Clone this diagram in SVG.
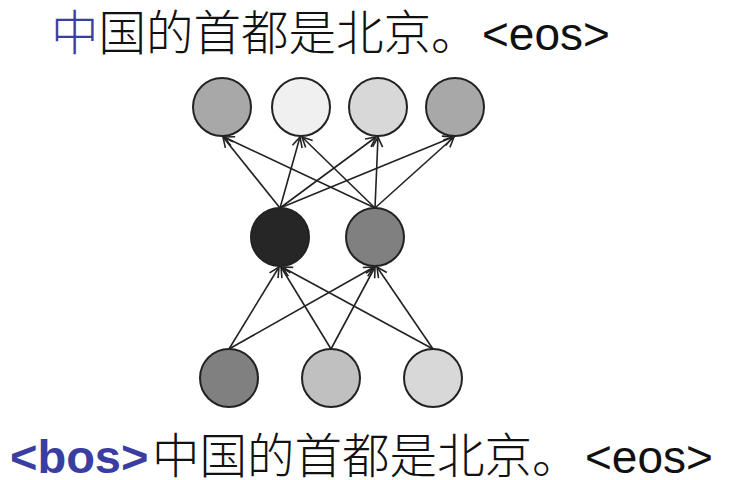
<svg xmlns="http://www.w3.org/2000/svg" width="730" height="480" viewBox="0 0 730 480">
<defs>
<marker id="arr" viewBox="0 0 12 12" refX="11" refY="6" markerWidth="12" markerHeight="12" markerUnits="userSpaceOnUse" orient="auto">
<path d="M1,1 L11,6 L1,11" fill="none" stroke="#222" stroke-width="1.6"/>
</marker>
<style>
.n{stroke:#222;stroke-width:2}
.c line{stroke:#222;stroke-width:1.6;marker-end:url(#arr)}
.t{font-family:"Liberation Sans","Noto Sans CJK SC",sans-serif;font-size:46px;fill:#111}
.cjk{font-family:"Noto Sans CJK SC",sans-serif;font-weight:300;font-size:47.5px}
.b{fill:#3a3ea2}
</style>
</defs>
<rect width="730" height="480" fill="#fff"/>
<text class="t" y="50"><tspan class="cjk b" x="51">中</tspan><tspan class="cjk">国的首都是北京。</tspan><tspan x="482">&lt;eos&gt;</tspan></text>
<text class="t" y="473"><tspan class="b" x="10" font-weight="bold" font-size="47">&lt;bos&gt;</tspan><tspan class="cjk" x="152">中国的首都是北京。</tspan><tspan x="585">&lt;eos&gt;</tspan></text>
<g class="c" id="connectors">
<line x1="229" y1="349" x2="279" y2="267"/>
<line x1="229" y1="349" x2="374" y2="267"/>
<line x1="331" y1="349" x2="281" y2="267"/>
<line x1="331" y1="349" x2="375" y2="267"/>
<line x1="433" y1="349" x2="282" y2="267"/>
<line x1="433" y1="349" x2="377" y2="267"/>
<line x1="280" y1="208" x2="223" y2="137"/>
<line x1="280" y1="208" x2="300" y2="137"/>
<line x1="280" y1="208" x2="376" y2="137"/>
<line x1="280" y1="208" x2="453" y2="137"/>
<line x1="375" y1="208" x2="224" y2="137"/>
<line x1="375" y1="208" x2="302" y2="137"/>
<line x1="375" y1="208" x2="378" y2="137"/>
<line x1="375" y1="208" x2="454" y2="137"/>
</g>
<g id="o1"><circle class="n" cx="222" cy="107" r="29" fill="#a8a8a8"/></g>
<g id="o2"><circle class="n" cx="301" cy="107" r="29" fill="#f0f0f0"/></g>
<g id="o3"><circle class="n" cx="378" cy="107" r="29" fill="#d8d8d8"/></g>
<g id="o4"><circle class="n" cx="455" cy="107" r="29" fill="#a8a8a8"/></g>
<g id="h1"><circle class="n" cx="280" cy="237" r="29" fill="#262626"/></g>
<g id="h2"><circle class="n" cx="375" cy="237" r="29" fill="#808080"/></g>
<g id="i1"><circle class="n" cx="229" cy="378" r="29" fill="#808080"/></g>
<g id="i2"><circle class="n" cx="331" cy="378" r="29" fill="#c0c0c0"/></g>
<g id="i3"><circle class="n" cx="433" cy="378" r="29" fill="#d8d8d8"/></g>
</svg>
